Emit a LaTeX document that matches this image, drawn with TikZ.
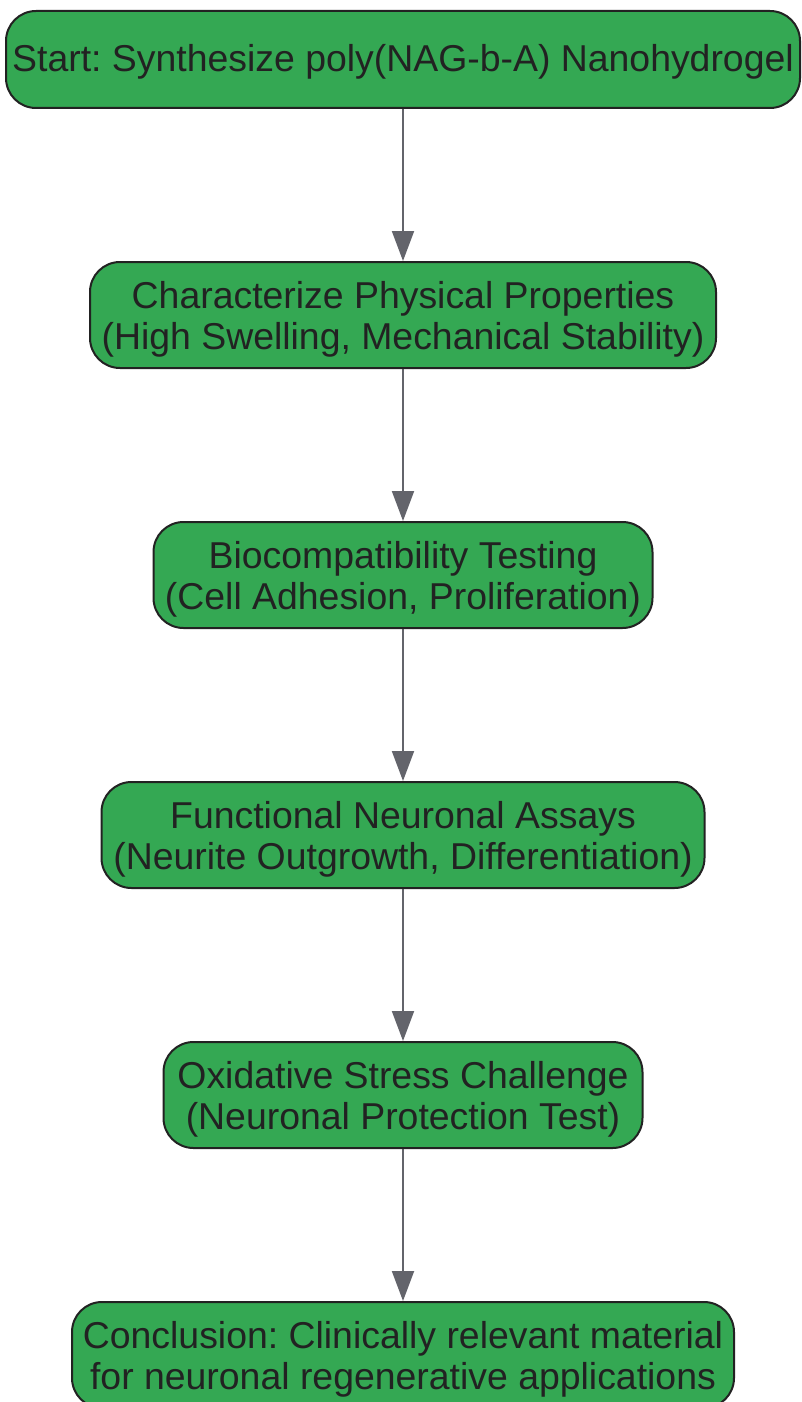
\documentclass[tikz,border=0pt]{standalone}
\usepackage{fontspec}
\setmainfont{Liberation Sans}
\usetikzlibrary{arrows.meta}
\definecolor{boxfill}{HTML}{34A853}
\definecolor{boxline}{HTML}{222222}
\definecolor{arrowc}{HTML}{63646B}
\definecolor{txt}{HTML}{222222}
\frenchspacing
\tikzset{
  flowbox/.style={draw=boxline, line width=2pt, fill=boxfill, rounded corners=30pt,
    inner sep=0pt, anchor=north},
  flowtext/.style={text=txt, align=center, inner sep=0pt,
    font=\fontsize{37.4pt}{41pt}\selectfont\frenchspacing},
  flowarrow/.style={draw=arrowc, line width=2pt, -{Triangle[width=22pt,length=30pt]}}
}
\begin{document}
\begin{tikzpicture}[x=1pt,y=1pt]
\useasboundingbox (0,0) rectangle (801,-1402);
\node[flowbox, minimum width=794pt, minimum height=97pt] (n1) at (403,-10) {};
\node[flowbox, minimum width=626pt, minimum height=106pt] (n2) at (403,-261) {};
\node[flowbox, minimum width=499pt, minimum height=106pt] (n3) at (403,-521) {};
\node[flowbox, minimum width=603pt, minimum height=106pt] (n4) at (403,-781) {};
\node[flowbox, minimum width=479pt, minimum height=106pt] (n5) at (403,-1041) {};
\node[flowbox, minimum width=662pt, minimum height=106pt] (n6) at (403,-1301) {};
\node[flowtext] (t1) at ([yshift=-2pt]n1.center) {Start: Synthesize poly(NAG-b-A) Nanohydrogel};
\node[flowtext] (t2) at ([yshift=-4pt]n2.center) {Characterize Physical Properties\\(High Swelling, Mechanical Stability)};
\node[flowtext] (t3) at ([yshift=-4pt]n3.center) {Biocompatibility Testing\\(Cell Adhesion, Proliferation)};
\node[flowtext] (t4) at ([yshift=-4pt]n4.center) {Functional Neuronal Assays\\(Neurite Outgrowth, Differentiation)};
\node[flowtext] (t5) at ([yshift=-4pt]n5.center) {Oxidative Stress Challenge\\(Neuronal Protection Test)};
\node[flowtext] (t6) at ([yshift=-4pt]n6.center) {Conclusion: Clinically relevant material\\for neuronal regenerative applications};
\draw[flowarrow] (n1.south) -- (n2.north);
\draw[flowarrow] (n2.south) -- (n3.north);
\draw[flowarrow] (n3.south) -- (n4.north);
\draw[flowarrow] (n4.south) -- (n5.north);
\draw[flowarrow] (n5.south) -- (n6.north);
\end{tikzpicture}
\end{document}
